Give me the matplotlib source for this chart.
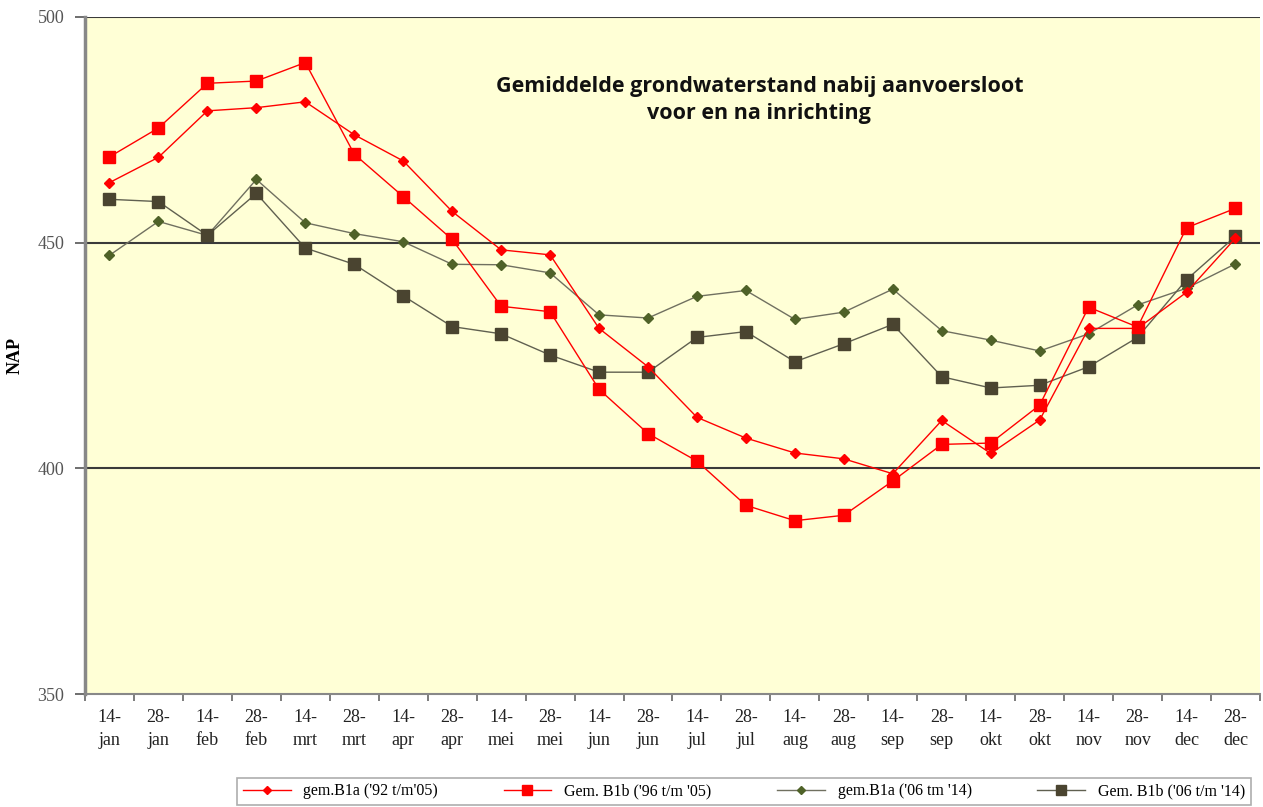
import matplotlib
matplotlib.use("Agg")
import matplotlib.pyplot as plt
import numpy as np

dates = ["14-\njan", "28-\njan", "14-\nfeb", "28-\nfeb", "14-\nmrt", "28-\nmrt",
         "14-\napr", "28-\napr", "14-\nmei", "28-\nmei", "14-\njun", "28-\njun",
         "14-\njul", "28-\njul", "14-\naug", "28-\naug", "14-\nsep", "28-\nsep",
         "14-\nokt", "28-\nokt", "14-\nnov", "28-\nnov", "14-\ndec", "28-\ndec"]

b1a_92_05 = [463.3, 468.9, 479.2, 479.9, 481.2, 473.9, 468.1, 456.9, 448.4, 447.3,
             431.0, 422.5, 411.3, 406.7, 403.4, 402.1, 398.8, 410.6, 403.3, 410.7,
             431.0, 431.0, 439.0, 451.0]
b1b_96_05 = [469.0, 475.4, 485.3, 485.8, 489.9, 469.6, 460.2, 450.7, 435.9, 434.7,
             417.5, 407.7, 401.6, 391.8, 388.4, 389.6, 397.2, 405.3, 405.6, 414.0,
             435.7, 431.3, 453.3, 457.6]
b1a_06_14 = [447.2, 454.7, 451.6, 464.0, 454.4, 452.0, 450.2, 445.2, 445.1, 443.3,
             434.0, 433.3, 438.1, 439.4, 433.0, 434.6, 439.7, 430.5, 428.4, 426.0,
             429.8, 436.2, 439.9, 445.3]
b1b_06_14 = [459.6, 459.1, 451.6, 460.9, 448.8, 445.2, 438.2, 431.4, 429.8, 425.1,
             421.3, 421.3, 429.0, 430.3, 423.6, 427.6, 431.9, 420.3, 417.8, 418.4,
             422.5, 429.0, 441.8, 451.4]

labels = ["gem.B1a ('92 t/m'05)", "Gem. B1b ('96 t/m '05)",
          "gem.B1a ('06 tm '14)", "Gem. B1b ('06 t/m '14)"]
yticks = [350, 400, 450, 500]

serif = ["Liberation Serif", "DejaVu Serif"]

fig = plt.figure(figsize=(12.63, 8.07), dpi=100)
ax = fig.add_axes([0.0673, 0.140, 0.9303, 0.839])
ax.set_facecolor("#FFFFD6")

x = np.arange(len(dates))
red = "#FF0000"
olive = "#4F6228"
dark = "#4A4430"

ax.plot(x, b1a_92_05, color=red, lw=1.0, marker="D", ms=5, mfc=red, mec=red,
        label=labels[0], zorder=4)
ax.plot(x, b1b_96_05, color=red, lw=1.0, marker="s", ms=9, mfc=red, mec=red,
        label=labels[1], zorder=4)
ax.plot(x, b1a_06_14, color="#707060", lw=1.0, marker="D", ms=5, mfc=olive, mec=olive,
        label=labels[2], zorder=3)
ax.plot(x, b1b_06_14, color="#606050", lw=1.0, marker="s", ms=9, mfc=dark, mec=dark,
        label=labels[3], zorder=3)

ax.set_xlim(-0.5, len(dates) - 0.5)
ax.set_ylim(350, 500)

for v in [400, 450, 500]:
    ax.axhline(v, color="#3a3a3a", lw=1.5, zorder=2)

ax.set_yticks(yticks)
ax.set_yticklabels([str(v) for v in yticks], fontfamily=serif, fontsize=13, color="#555555")
ax.tick_params(axis="y", direction="out", length=7, width=1.2, color="#555555", pad=8)

ax.set_xticks(x)
ax.set_xticklabels(dates, fontfamily=serif, fontsize=13, color="#222222", linespacing=1.45)
ax.set_xticks(np.arange(-0.5, len(dates), 1.0), minor=True)
ax.tick_params(axis="x", which="major", length=0, pad=11)
ax.tick_params(axis="x", which="minor", direction="out", length=5, width=1.2, color="#666666")

for s in ["right", "top"]:
    ax.spines[s].set_visible(False)
ax.spines["left"].set_color("#888888")
ax.spines["left"].set_linewidth(2.5)
ax.spines["bottom"].set_color("#888888")
ax.spines["bottom"].set_linewidth(1.5)

ax.set_ylabel("NAP", fontfamily=serif, fontsize=13, fontweight="bold")
ax.yaxis.set_label_coords(-0.052, 0.5)

ax.text(0.574, 0.877, "Gemiddelde grondwaterstand nabij aanvoersloot\nvoor en na inrichting",
        transform=ax.transAxes, ha="center", va="center", fontsize=15.5, fontweight="bold",
        fontfamily=["Open Sans", "DejaVu Sans"], linespacing=1.4, color="#111111")

leg = fig.legend(loc="center", bbox_to_anchor=(0.589, 0.0195), ncol=4, frameon=True,
                 prop={"family": serif, "size": 11.5}, handlelength=3.0, columnspacing=4.1,
                 borderpad=0.35, fancybox=False, markerscale=0.75, borderaxespad=0)
leg.get_frame().set_edgecolor("#999999")
leg.get_frame().set_linewidth(1.2)

fig.savefig("out.png", dpi=100, facecolor="white")
